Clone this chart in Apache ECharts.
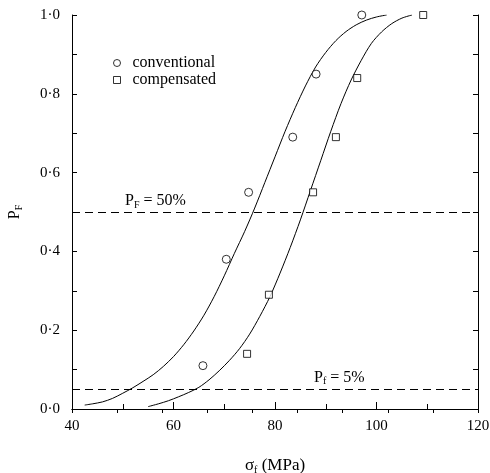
<!DOCTYPE html>
<html lang="en">
<head>
    <meta charset="UTF-8">
    <script src="https://cdn.jsdelivr.net/npm/echarts@6/dist/echarts.min.js"></script>
    <title>P_F vs sigma_f</title>
    <style>
        html, body { margin: 0; padding: 0; background: #fff; }
    </style>
</head>
<body>
    <div id="main" style="width: 490px; height: 473px;"></div>
    <script>
        // measured points
        var convX = [65.8, 70.4, 74.8, 83.5, 88.1, 97.1];
        var convP = [0.11, 0.38, 0.55, 0.69, 0.85, 1.0];
        var compX = [74.5, 78.8, 87.5, 92.0, 96.2, 109.2];
        var compP = [0.14, 0.29, 0.55, 0.69, 0.84, 1.0];

        // fitted curves, every 2 MPa
        var convCurveX = [42.5, 44, 46, 48, 50, 52, 54, 56, 58, 60, 62, 64, 66, 68, 70, 72, 74, 76, 78, 80, 82, 84, 86, 88, 90, 92, 94, 96, 98, 100, 102];
        var convCurveP = [0.01, 0.013, 0.018, 0.027, 0.04, 0.054, 0.07, 0.087, 0.108, 0.133, 0.163, 0.198, 0.238, 0.285, 0.338, 0.395, 0.45, 0.51, 0.575, 0.64, 0.705, 0.765, 0.82, 0.868, 0.905, 0.935, 0.958, 0.975, 0.987, 0.995, 1.0];
        var compCurveX = [55, 57, 59, 61, 63, 65, 67, 69, 71, 73, 75, 77, 79, 81, 83, 85, 87, 89, 91, 93, 95, 97, 99, 101, 103, 105, 107];
        var compCurveP = [0.006, 0.013, 0.021, 0.031, 0.042, 0.055, 0.074, 0.097, 0.123, 0.153, 0.19, 0.235, 0.285, 0.345, 0.41, 0.48, 0.555, 0.63, 0.705, 0.775, 0.835, 0.885, 0.928, 0.957, 0.978, 0.992, 1.0];

        var refLevels = [0.5, 0.05];

        var serif = "'Liberation Serif', 'Times New Roman', serif";

        function pairs(xs, ys) {
            var out = [];
            for (var i = 0; i < xs.length; i++) out.push([xs[i], ys[i]]);
            return out;
        }
        function dotLabel(v) {
            return v.toFixed(1).replace('.', '·');
        }

        var myChart = echarts.init(document.getElementById('main'));
        var black = '#000';
        var subRich = {
            p: { fontFamily: serif, fontSize: 16, color: black, lineHeight: 18 },
            s: { fontFamily: serif, fontSize: 10, color: black, lineHeight: 18, verticalAlign: 'bottom', padding: [6, 0, 0, 0] }
        };
        var nameRich = {
            p: { fontFamily: serif, fontSize: 17, color: black, lineHeight: 18 },
            s: { fontFamily: serif, fontSize: 10, color: black, lineHeight: 18, verticalAlign: 'bottom', padding: [6, 0, 0, 0] }
        };

        var option = {
            animation: false,
            backgroundColor: '#fff',
            grid: { left: 72, right: 12, top: 15, bottom: 64, containLabel: false, outerBoundsMode: 'none' },
            legend: {
                orient: 'vertical',
                left: 108,
                top: 50,
                itemWidth: 7,
                itemHeight: 7,
                itemGap: 1,
                selectedMode: false,
                data: [
                    { name: 'conventional', icon: 'circle' },
                    { name: 'compensated', icon: 'rect' }
                ],
                itemStyle: { color: '#fff', borderColor: black, borderWidth: 1 },
                textStyle: { fontFamily: serif, fontSize: 16, color: black, lineHeight: 14, padding: [0, 0, 0, 7] }
            },
            xAxis: [
                {
                    type: 'value', min: 40, max: 120, interval: 20, position: 'bottom',
                    splitLine: { show: false },
                    axisLine: { lineStyle: { color: black, width: 1 } },
                    axisTick: { inside: true, length: 7, lineStyle: { color: black } },
                    minorTick: { show: true, splitNumber: 2, length: 5, lineStyle: { color: black } },
                    axisLabel: { color: black, fontFamily: serif, fontSize: 15, margin: 10 },
                    name: '{p|σ}{s|f}{p| (MPa)}',
                    nameLocation: 'middle',
                    nameGap: 48,
                    nameTextStyle: { rich: nameRich }
                },
                {
                    type: 'value', min: 0, max: 9, interval: 1, position: 'top',
                    splitLine: { show: false },
                    axisLine: { lineStyle: { color: black, width: 1 } },
                    axisTick: { inside: true, length: 4, lineStyle: { color: black } },
                    axisLabel: { show: false }
                }
            ],
            yAxis: [
                {
                    type: 'value', min: 0, max: 1, interval: 0.2, position: 'left',
                    splitLine: { show: false },
                    axisLine: { show: true, lineStyle: { color: black, width: 1 } },
                    axisTick: { show: true, inside: true, length: 5, lineStyle: { color: black } },
                    minorTick: { show: true, splitNumber: 2, length: 5, lineStyle: { color: black } },
                    axisLabel: { color: black, fontFamily: serif, fontSize: 15, margin: 12, formatter: dotLabel },
                    name: '{p|P}{s|F}',
                    nameLocation: 'middle',
                    nameRotate: 90,
                    nameGap: 48,
                    nameTextStyle: { rich: subRich }
                },
                {
                    type: 'value', min: 0, max: 1, interval: 0.1, position: 'right',
                    splitLine: { show: false },
                    axisLine: { show: true, lineStyle: { color: black, width: 1 } },
                    axisTick: { show: true, inside: true, length: 5, lineStyle: { color: black } },
                    axisLabel: { show: false }
                }
            ],
            series: [
                {
                    name: 'convCurve', type: 'line', smooth: 0.3, showSymbol: false, silent: true,
                    lineStyle: { color: black, width: 1 },
                    data: pairs(convCurveX, convCurveP),
                    markLine: {
                        silent: true,
                        symbol: 'none',
                        lineStyle: { color: black, width: 1, type: [8, 5] },
                        data: [
                            {
                                yAxis: refLevels[0],
                                label: {
                                    position: 'insideStartTop', distance: [53, 2],
                                    formatter: '{p|P}{s|F}{p| = 50%}', rich: subRich
                                }
                            },
                            {
                                yAxis: refLevels[1],
                                label: {
                                    position: 'insideStartTop', distance: [242, 3],
                                    formatter: '{p|P}{s|f}{p| = 5%}', rich: subRich
                                }
                            }
                        ]
                    }
                },
                {
                    name: 'compCurve', type: 'line', smooth: 0.3, showSymbol: false, silent: true,
                    lineStyle: { color: black, width: 1 },
                    data: pairs(compCurveX, compCurveP)
                },
                {
                    name: 'conventional', type: 'scatter', symbol: 'circle', symbolSize: 8, z: 5,
                    itemStyle: { color: '#fff', borderColor: black, borderWidth: 1 },
                    data: pairs(convX, convP)
                },
                {
                    name: 'compensated', type: 'scatter', symbol: 'rect', symbolSize: 7, z: 5,
                    itemStyle: { color: '#fff', borderColor: black, borderWidth: 1 },
                    data: pairs(compX, compP)
                }
            ]
        };
        myChart.setOption(option);
    </script>
</body>
</html>
